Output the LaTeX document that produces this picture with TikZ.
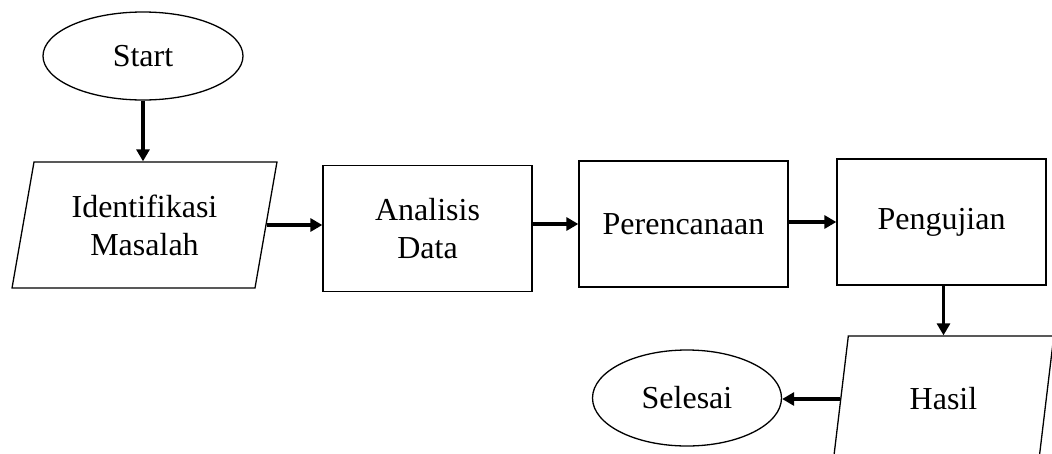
\documentclass[tikz,border=0pt]{standalone}
\usepackage{fontspec}
\setmainfont{Liberation Serif}
\usetikzlibrary{shapes.geometric,arrows.meta}
\begin{document}
\begin{tikzpicture}[x=1pt,y=-1pt,
  every node/.style={font=\fontsize{32}{38}\selectfont, align=center, inner sep=0pt},
  boxnode/.style={draw, line width=1.3pt, minimum width=209pt, minimum height=126pt},
  termnode/.style={draw, ellipse, line width=1.3pt},
  ionode/.style={draw, trapezium, trapezium left angle=76.6, trapezium right angle=103.4,
     trapezium stretches=true, line width=1.3pt, minimum height=126pt},
  flow/.style={line width=3.2pt, -{Triangle[length=12pt,width=13pt]}}]
\useasboundingbox (0,0) rectangle (1052,453);
\clip (0,0) rectangle (1052,453);
\node[termnode, minimum width=200pt, minimum height=88pt] (start) at (143,56) {Start};
\node[ionode, minimum width=265pt] (ident) at (144.5,225) {Identifikasi\\Masalah};
\node[boxnode] (anal) at (427.5,228.5) {Analisis\\Data};
\node[boxnode] (pere) at (683.5,224) {Perencanaan};
\node[boxnode] (peng) at (941.5,222) {Pengujian};
\node[ionode, minimum width=222pt] (hasil) at (943.5,399) {Hasil};
\node[termnode, minimum width=189pt, minimum height=96pt] (selesai) at (687,398) {Selesai};
\draw[flow] (start.south) -- (start.south |- ident.north);
\draw[flow] (ident.east) -- (ident.east -| anal.west);
\draw[flow] (anal.east |- pere.west) -- (pere.west);
\draw[flow] (pere.east |- peng.west) -- (peng.west);
\draw[flow] (peng.south -| hasil.north) -- (hasil.north);
\draw[flow] (hasil.west) -- (hasil.west -| selesai.east);
\end{tikzpicture}
\end{document}
